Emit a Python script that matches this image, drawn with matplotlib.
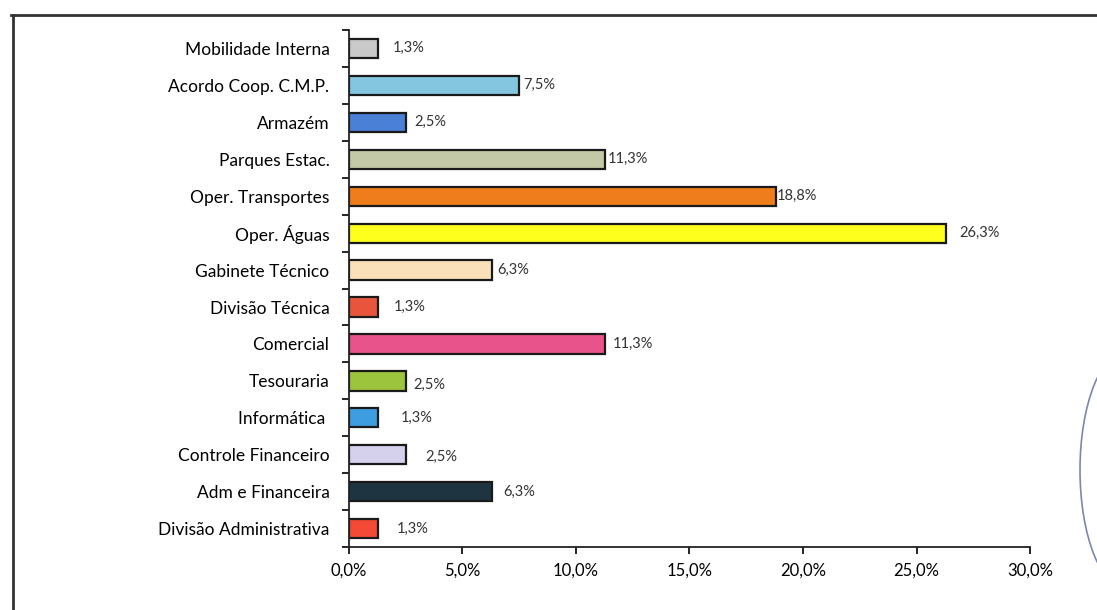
import matplotlib.pyplot as plt
import numpy as np
from matplotlib.patches import Arc

# Distribuição por serviço (% do total)
servicos = ["Mobilidade Interna", "Acordo Coop. C.M.P.", "Armazém", "Parques Estac.",
            "Oper. Transportes", "Oper. Águas", "Gabinete Técnico", "Divisão Técnica",
            "Comercial", "Tesouraria", "Informática ", "Controle Financeiro",
            "Adm e Financeira", "Divisão Administrativa"]
percentagens = [1.3, 7.5, 2.5, 11.3, 18.8, 26.3, 6.3, 1.3, 11.3, 2.5, 1.3, 2.5, 6.3, 1.3]
rotulos = ["1,3%", "7,5%", "2,5%", "11,3%", "18,8%", "26,3%", "6,3%", "1,3%",
           "11,3%", "2,5%", "1,3%", "2,5%", "6,3%", "1,3%"]

cores = ["#c9c9c9", "#84c6df", "#4a80d6", "#c3c8a6", "#f07d1c", "#ffff1e", "#fbe1ba",
         "#e8553c", "#e9538b", "#9cc43c", "#3e9de0", "#d5d1ed", "#1e3541", "#f24a36"]
# distancia (px) entre o fim da barra e o rótulo
desvio_rotulo = [14, 4, 9, 2, 1, 13, 5, 15, 7, 8, 22, 20, 11, 18]
desce_rotulo = [0, 0, 0, 0, 0, 0, 0, 0, 0, 0.1, 0, 0.05, 0, 0]

plt.rcParams['font.family'] = ['Lato', 'DejaVu Sans']

fig = plt.figure(figsize=(10.97, 6.10), dpi=100)
ax = fig.add_axes([0.318, 0.103, 0.621, 0.848])

y = np.arange(len(servicos))
ax.barh(y, percentagens, height=0.52, color=cores, edgecolor="#1a1a1a", linewidth=1.6)

for i, (v, txt) in enumerate(zip(percentagens, rotulos)):
    ax.annotate(txt, (v, y[i] + desce_rotulo[i]), xytext=(desvio_rotulo[i] * 0.72, 0),
                textcoords="offset points", va="center", ha="left",
                fontsize=10.5, color="#333333")

ax.set_xlim(0, 30)
ax.set_ylim(len(servicos) - 0.5, -0.5)
ax.set_xticks(np.arange(0, 31, 5))
ax.xaxis.set_major_formatter(plt.FuncFormatter(lambda t, p: ("%.1f%%" % t).replace(".", ",")))
ax.tick_params(axis="x", labelsize=12)
ax.set_yticks(y)
ax.set_yticklabels(servicos, fontsize=12.5)
ax.set_yticks(np.arange(-0.5, len(servicos), 1), minor=True)
ax.tick_params(axis="y", which="major", length=0, pad=14)
ax.tick_params(axis="y", which="minor", length=5, width=1.2, direction="out")
ax.tick_params(axis="x", length=5, width=1.2, direction="out", pad=6)

for lado in ["top", "right"]:
    ax.spines[lado].set_visible(False)
for lado in ["left", "bottom"]:
    ax.spines[lado].set_linewidth(1.3)
    ax.spines[lado].set_color("#222222")

# moldura do gráfico
fig.add_artist(plt.Line2D([0.010, 1.0], [0.976, 0.976], transform=fig.transFigure,
                          color="#333333", linewidth=2))
fig.add_artist(plt.Line2D([0.012, 0.012], [0.0, 0.976], transform=fig.transFigure,
                          color="#333333", linewidth=2))

# traço a caneta na margem
fig.add_artist(Arc((1128, 140), 96, 240, transform=None, color="#7d86ad",
                   linewidth=1.2, theta1=90, theta2=270))

fig.savefig("out.png", dpi=100)
